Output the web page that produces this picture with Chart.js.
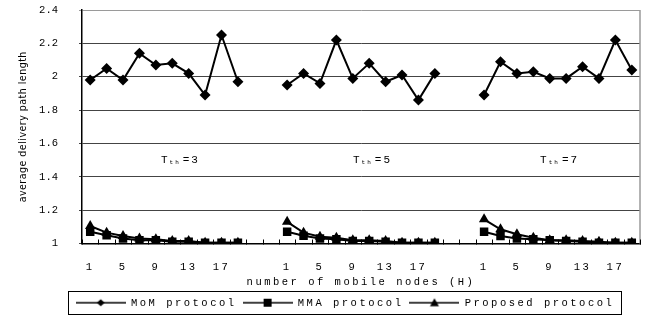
<!DOCTYPE html>
<html><head><meta charset="utf-8">
<script src="https://cdn.jsdelivr.net/npm/chart.js@4"></script>
<style>html,body{margin:0;padding:0;background:#fff}#wrap{width:651px;height:320px;position:relative}</style>
</head><body><div id="wrap"><canvas id="c" width="651" height="320" style="width:651px;height:320px"></canvas></div>
<script>
// ---- data ----
const thresholds = [3, 5, 7];
const nodeCounts = [1, 3, 5, 7, 9, 11, 13, 15, 17, 19];
const xTickLabels = ['1', '', '5', '', '9', '', '13', '', '17', ''];
const yTickValues = [1, 1.2, 1.4, 1.6, 1.8, 2, 2.2, 2.4];
const seriesNames = ['MoM protocol', 'MMA protocol', 'Proposed protocol'];
const yTitle = 'average delivery path length';
const xTitle = 'number of mobile nodes (H)';
const momT3 = [1.98, 2.05, 1.98, 2.14, 2.07, 2.08, 2.02, 1.89, 2.25, 1.97];
const momT5 = [1.95, 2.02, 1.96, 2.22, 1.99, 2.08, 1.97, 2.01, 1.86, 2.02];
const momT7 = [1.89, 2.09, 2.02, 2.03, 1.99, 1.99, 2.06, 1.99, 2.22, 2.04];
const mmaT3 = [1.07, 1.05, 1.03, 1.02, 1.02, 1.01, 1.01, 1.005, 1.005, 1.005];
const mmaT5 = [1.07, 1.046, 1.03, 1.025, 1.015, 1.015, 1.01, 1.005, 1.005, 1.005];
const mmaT7 = [1.07, 1.045, 1.03, 1.025, 1.02, 1.015, 1.01, 1.005, 1.005, 1.005];
const propT3 = [1.105, 1.065, 1.045, 1.03, 1.025, 1.015, 1.015, 1.005, 1.005, 1.005];
const propT5 = [1.13, 1.065, 1.04, 1.035, 1.02, 1.02, 1.015, 1.005, 1.005, 1.005];
const propT7 = [1.145, 1.085, 1.055, 1.035, 1.02, 1.02, 1.015, 1.01, 1.005, 1.005];

// ---- assemble (two empty categories between threshold groups) ----
const groups = [[momT3, mmaT3, propT3], [momT5, mmaT5, propT5], [momT7, mmaT7, propT7]];
const labels = [], mom = [], mma = [], prop = [], groupStart = [];
groups.forEach((g, gi) => {
  if (gi > 0) { labels.push('', ''); mom.push(null, null); mma.push(null, null); prop.push(null, null); }
  groupStart.push(labels.length);
  nodeCounts.forEach((n, i) => { labels.push(xTickLabels[i]); mom.push(g[0][i]); mma.push(g[1][i]); prop.push(g[2][i]); });
});

const SPACING = '2.5px';
const MONO = "'Liberation Mono', 'DejaVu Sans Mono', monospace";

function legendIcon(kind) {
  const c = document.createElement('canvas'); c.width = 50; c.height = 12;
  const x = c.getContext('2d');
  x.strokeStyle = '#000'; x.lineWidth = 1.5;
  x.beginPath(); x.moveTo(0, 6); x.lineTo(50, 6); x.stroke();
  x.fillStyle = '#000'; x.beginPath();
  if (kind === 'diamond') { x.moveTo(21, 6); x.lineTo(25, 2.5); x.lineTo(29, 6); x.lineTo(25, 9.5); }
  else if (kind === 'square') { x.rect(21, 2, 8, 8); }
  else { x.moveTo(25, 1.5); x.lineTo(29.5, 9.5); x.lineTo(20.5, 9.5); }
  x.closePath(); x.fill();
  return c;
}
const icons = [legendIcon('diamond'), legendIcon('square'), legendIcon('triangle')];

function wrapSpacing(fn, sp) {
  return function (...a) { const c = this.ctx; const prev = c.letterSpacing; c.letterSpacing = sp; fn.apply(this, a); c.letterSpacing = prev; };
}

const deco = {
  id: 'deco',
  beforeLayout(chart) { chart.ctx.letterSpacing = SPACING; },
  afterLayout(chart) {
    const lg = chart.legend; lg.left += 50;
    const ys = chart.scales.y;
    if (!ys._wrappedSp) {
      ys.drawLabels = wrapSpacing(ys.drawLabels, '0px');
      ys._wrappedSp = true;
    }
  },
  beforeDraw(chart) { chart.ctx.letterSpacing = SPACING; },
  afterDraw(chart) {
    const { ctx, chartArea: a, scales: { x, y } } = chart;
    ctx.save();
    // right frame
    ctx.strokeStyle = '#9a9a9a'; ctx.lineWidth = 1.5;
    ctx.beginPath(); ctx.moveTo(a.right, a.top); ctx.lineTo(a.right, a.bottom); ctx.stroke();
    // inner tick marks at category boundaries
    ctx.strokeStyle = '#000'; ctx.lineWidth = 1;
    ctx.beginPath();
    for (let i = 0; i <= labels.length; i++) {
      const px = Math.round(x.getPixelForValue(i - 0.5)) + 0.5;
      ctx.moveTo(px, a.bottom + 1); ctx.lineTo(px, a.bottom - 4);
    }
    ctx.stroke();
    // threshold labels
    const anchors = [5.5, 5.2, 4.6];
    ctx.fillStyle = '#000'; ctx.textBaseline = 'middle'; ctx.letterSpacing = '2px';
    thresholds.forEach((t, gi) => {
      const cx = x.getPixelForValue(groupStart[gi] + anchors[gi]);
      const cy = y.getPixelForValue(1.5);
      const big = '11px ' + MONO, small = '6px ' + MONO;
      ctx.font = big; const wT = ctx.measureText('T').width; const wR = ctx.measureText('=' + t).width;
      ctx.font = small; const wS = ctx.measureText('th').width;
      let sx = cx - (wT + wS + wR + 2) / 2;
      ctx.textAlign = 'left';
      ctx.font = big; ctx.fillText('T', sx, cy); sx += wT;
      ctx.font = small; ctx.fillText('th', sx, cy + 2); sx += wS + 2;
      ctx.font = big; ctx.fillText('=' + t, sx, cy);
    });
    // y axis title
    ctx.save();
    ctx.translate(23, (a.top + a.bottom) / 2);
    ctx.rotate(-Math.PI / 2);
    ctx.textAlign = 'center'; ctx.textBaseline = 'middle';
    ctx.letterSpacing = '0.5px';
    ctx.font = "10.5px 'DejaVu Sans Condensed', 'Liberation Sans Narrow', sans-serif";
    ctx.fillText(yTitle, 0, 0);
    ctx.restore();
    // legend frame
    const hb = chart.legend.legendHitBoxes;
    if (hb && hb.length) {
      const l = hb[0].left - 8, r = hb[hb.length - 1].left + hb[hb.length - 1].width + 6;
      const cy = hb[0].top + hb[0].height / 2;
      ctx.strokeStyle = '#000'; ctx.lineWidth = 1;
      ctx.strokeRect(Math.round(l) + 0.5, Math.round(cy - 11.5) + 0.5, Math.round(r - l), 23);
    }
    ctx.restore();
  }
};

const common = { borderColor: '#000', backgroundColor: '#000', borderWidth: 2, pointBorderWidth: 0, spanGaps: false, tension: 0, pointHoverRadius: 5 };
new Chart(document.getElementById('c'), {
  type: 'line',
  data: {
    labels,
    datasets: [
      { ...common, label: seriesNames[0], data: mom, pointStyle: 'rectRot', pointRadius: 5.5 },
      { ...common, label: seriesNames[1], data: mma, pointStyle: 'rect', pointRadius: 6 },
      { ...common, label: seriesNames[2], data: prop, pointStyle: 'triangle', pointRadius: 6 }
    ]
  },
  options: {
    responsive: false, animation: false, devicePixelRatio: 1,
    layout: { padding: { left: 0, right: 11, top: 10, bottom: 2 } },
    plugins: {
      tooltip: { enabled: false },
      legend: {
        position: 'bottom',
        labels: {
          usePointStyle: true, pointStyleWidth: 50, padding: 6, color: '#000',
          font: { family: MONO, size: 10.5 },
          generateLabels: (chart) => chart.data.datasets.map((ds, i) => ({
            text: ds.label, pointStyle: icons[i], datasetIndex: i, hidden: false,
            fillStyle: '#000', strokeStyle: '#000', lineWidth: 0, fontColor: '#000'
          }))
        }
      }
    },
    scales: {
      x: {
        type: 'category', offset: true,
        grid: { display: false },
        border: { display: true, color: '#000', width: 1.5 },
        ticks: { autoSkip: false, maxRotation: 0, minRotation: 0, padding: 9, color: '#000', font: { family: MONO, size: 10.5 } },
        title: { display: true, text: xTitle, color: '#000', font: { family: MONO, size: 10.5 }, padding: { top: 0, bottom: 3 } },
        afterFit: (s) => { s.height = 48; }
      },
      y: {
        min: 1, max: 2.4,
        afterBuildTicks: (s) => { s.ticks = yTickValues.map(v => ({ value: v })); },
        grid: { color: (c) => (c.tick && c.tick.value === 2.4 ? '#9a9a9a' : '#444'), lineWidth: 1, tickLength: 3 },
        border: { display: true, color: '#000', width: 1.5 },
        ticks: { padding: 21, color: '#000', font: { family: MONO, size: 10.5 }, callback: (v) => String(+(+v).toFixed(1)) },
        title: { display: false },
        afterFit: (s) => { s.width = 82; s.paddingTop = 5; s.paddingBottom = 5; }
      }
    }
  },
  plugins: [deco]
});
</script>
</body></html>
